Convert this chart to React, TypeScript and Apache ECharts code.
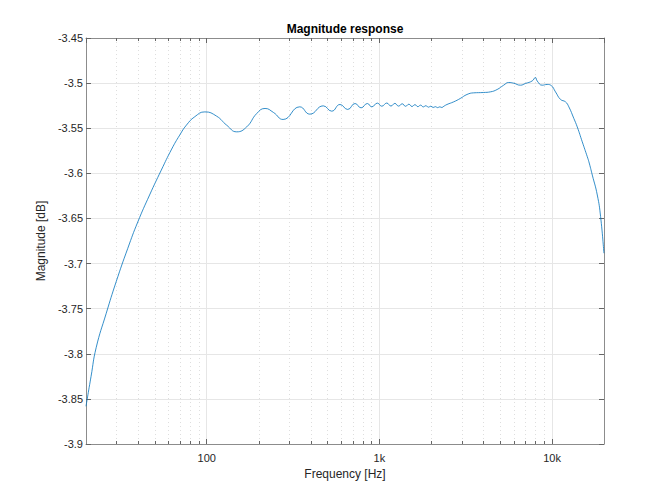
import React, { useEffect, useRef } from "react";
import * as echarts from "echarts";

// Frequency (Hz) and magnitude (dB)
const freqHz = [
  20, 21.4, 22.9, 26.2, 29.9, 34.9, 39.9, 46.7, 54.6, 62.7, 69.8, 76.3, 85.4, 97.6,
  114.1, 130.5, 149.2, 170.6, 195.1, 217.8, 243.5, 276.9, 345.9, 395.6, 473.3, 529.5,
  591.7, 655.7, 723, 783.6, 852, 903.6, 974, 1033, 1104, 1167, 1230, 1293, 1356, 1419,
  1482, 1545, 1608, 1671, 1734, 1797, 1860, 1923, 1986, 2049, 2112, 2175, 2238, 2301,
  2364, 2464, 2692, 2944, 3218, 3516, 4018, 4395, 4808, 5248, 5612, 6000, 6562, 7015,
  7674, 8018, 8204, 8770, 9374, 9890, 10474, 11200, 11972, 12514, 13378, 13996, 14964,
  16004, 16350, 17110, 18288, 19114, 19972,
];
const magDb = [
  -3.8582, -3.825, -3.7933, -3.7551, -3.7202, -3.6832, -3.6539, -3.624, -3.5964, -3.5731,
  -3.5576, -3.5466, -3.5372, -3.5319, -3.5366, -3.5466, -3.554, -3.5485, -3.5336, -3.5281,
  -3.5325, -3.5403, -3.5263, -3.5344, -3.5252, -3.5311, -3.5237, -3.5292, -3.5226, -3.5274,
  -3.5226, -3.5263, -3.5222, -3.5256, -3.5221, -3.5254, -3.5225, -3.5255, -3.5229, -3.5257,
  -3.5234, -3.5259, -3.5239, -3.5261, -3.5244, -3.5264, -3.525, -3.5267, -3.5256, -3.527,
  -3.5261, -3.5272, -3.5263, -3.527, -3.5256, -3.5237, -3.5208, -3.517, -3.5126, -3.5108,
  -3.5104, -3.5097, -3.5071, -3.5023, -3.4993, -3.5001, -3.5023, -3.5004, -3.4976, -3.4938,
  -3.4976, -3.5023, -3.5015, -3.5027, -3.5097, -3.5181, -3.5208, -3.5263, -3.5392, -3.5485,
  -3.565, -3.5816, -3.5872, -3.6019, -3.624, -3.648, -3.6885,
];

// Axis settings
const X_MIN = 20;
const X_MAX = 20000;
const Y_MIN = -3.9;
const Y_MAX = -3.45;
const Y_STEP = 0.05;
const minorTickHz = [
  30, 40, 50, 60, 70, 80, 90, 200, 300, 400, 500, 600, 700, 800, 900,
  2000, 3000, 4000, 5000, 6000, 7000, 8000, 9000,
];

const FONT = "'Liberation Sans', Arial, Helvetica, sans-serif";
const AXIS_COLOR = "#8c8c8c";
const TICK_COLOR = "#666666";
const LABEL_COLOR = "#262626";
const GRID_COLOR = "#e6e6e6";

export default function App() {
  const ref = useRef<HTMLDivElement>(null);

  useEffect(() => {
    if (!ref.current) return;
    const chart = echarts.init(ref.current, null, { renderer: "svg" });
    const lineData = freqHz.map((f, i) => [f, magDb[i]]);

    const xFmt = (v: number) => {
      const r = Math.round(v);
      return r >= 1000 ? `${r / 1000}k` : `${r}`;
    };

    chart.setOption({
      animation: false,
      backgroundColor: "#ffffff",
      title: {
        text: "Magnitude response",
        left: 345,
        top: 23,
        textAlign: "center",
        padding: 0,
        textStyle: { fontFamily: FONT, fontSize: 12, fontWeight: "bold", color: "#000" },
      },
      grid: { left: 86, right: 62, top: 38, bottom: 56, containLabel: false },
      xAxis: [
        {
          type: "log",
          logBase: 10,
          min: X_MIN,
          max: X_MAX,
          position: "bottom",
          name: "Frequency [Hz]",
          nameLocation: "middle",
          nameGap: 24,
          nameTextStyle: { fontFamily: FONT, fontSize: 12, color: LABEL_COLOR },
          axisLine: { show: true, onZero: false, lineStyle: { color: AXIS_COLOR, width: 1 } },
          axisTick: { show: true, inside: true, length: 5, lineStyle: { color: TICK_COLOR } },
          axisLabel: {
            formatter: xFmt,
            showMinLabel: false,
            showMaxLabel: false,
            margin: 8,
            fontFamily: FONT,
            fontSize: 11,
            color: LABEL_COLOR,
          },
          splitLine: { show: true, lineStyle: { color: GRID_COLOR, width: 1 } },
          minorTick: { show: false },
        },
        {
          type: "log",
          logBase: 10,
          min: X_MIN,
          max: X_MAX,
          position: "top",
          axisLine: { show: true, onZero: false, lineStyle: { color: AXIS_COLOR, width: 1 } },
          axisTick: { show: true, inside: true, length: 5, lineStyle: { color: TICK_COLOR } },
          axisLabel: { show: false },
          splitLine: { show: false },
        },
      ],
      yAxis: [
        {
          type: "value",
          min: Y_MIN,
          max: Y_MAX,
          interval: Y_STEP,
          position: "left",
          name: "Magnitude [dB]",
          nameLocation: "middle",
          nameGap: 34,
          nameTextStyle: { fontFamily: FONT, fontSize: 12, color: LABEL_COLOR },
          axisLine: { show: true, onZero: false, lineStyle: { color: AXIS_COLOR, width: 1 } },
          axisTick: { show: true, inside: true, length: 5, lineStyle: { color: TICK_COLOR } },
          axisLabel: { margin: 3, fontFamily: FONT, fontSize: 11, color: LABEL_COLOR },
          splitLine: { show: true, lineStyle: { color: GRID_COLOR, width: 1 } },
        },
        {
          type: "value",
          min: Y_MIN,
          max: Y_MAX,
          interval: Y_STEP,
          position: "right",
          axisLine: { show: true, onZero: false, lineStyle: { color: AXIS_COLOR, width: 1 } },
          axisTick: { show: true, inside: true, length: 5, lineStyle: { color: TICK_COLOR } },
          axisLabel: { show: false },
          splitLine: { show: false },
        },
      ],
      series: [
        {
          type: "custom",
          xAxisIndex: 0,
          yAxisIndex: 0,
          silent: true,
          clip: false,
          z: 1,
          data: minorTickHz.map((f) => [f, Y_MIN]),
          renderItem: (params: any, api: any) => {
            const p = api.coord([api.value(0), Y_MIN]);
            const cs = params.coordSys;
            const x = Math.round(p[0]) + 0.5;
            const top = cs.y;
            const bottom = cs.y + cs.height;
            return {
              type: "group",
              children: [
                {
                  type: "line",
                  shape: { x1: x, y1: top, x2: x, y2: bottom },
                  style: { stroke: "#dedede", lineWidth: 1, lineDash: [1, 3] },
                },
                {
                  type: "line",
                  shape: { x1: x, y1: bottom, x2: x, y2: bottom - 3 },
                  style: { stroke: TICK_COLOR, lineWidth: 1 },
                },
                {
                  type: "line",
                  shape: { x1: x, y1: top, x2: x, y2: top + 3 },
                  style: { stroke: TICK_COLOR, lineWidth: 1 },
                },
              ],
            };
          },
        },
        {
          type: "line",
          xAxisIndex: 0,
          yAxisIndex: 0,
          data: lineData,
          showSymbol: false,
          symbol: "none",
          smooth: 0.5,
          z: 3,
          lineStyle: { color: "#0072BD", width: 0.8 },
        },
      ],
    });

    return () => chart.dispose();
  }, []);

  return (
    <div
      ref={ref}
      style={{ position: "fixed", left: 0, top: 0, width: 666, height: 500, background: "#fff" }}
    />
  );
}
